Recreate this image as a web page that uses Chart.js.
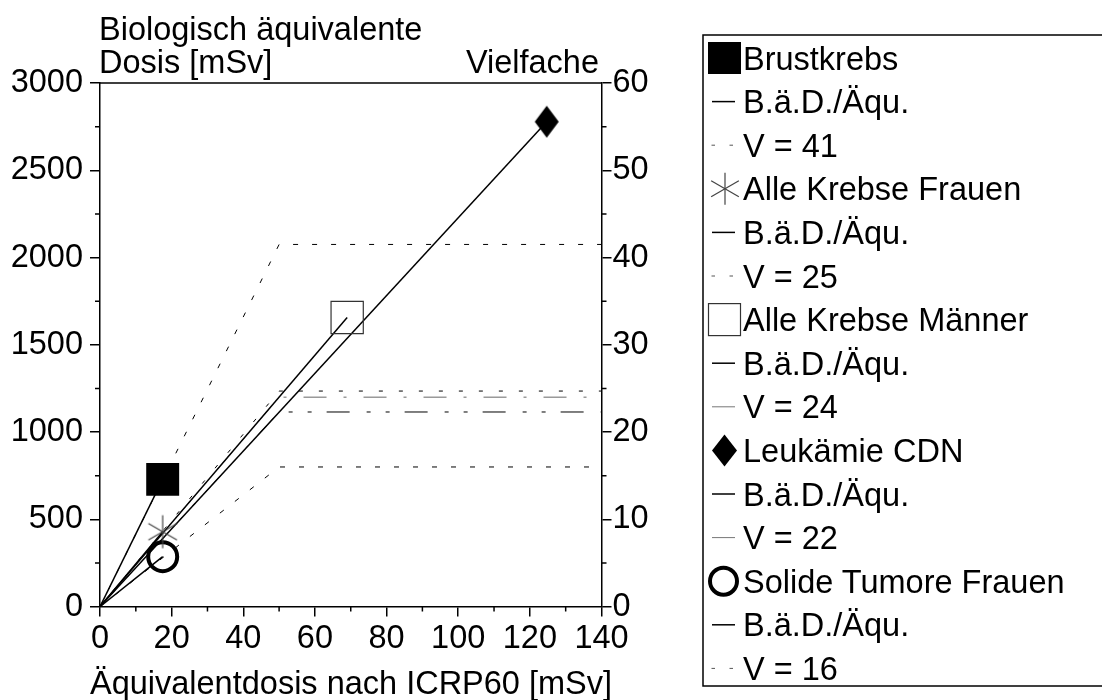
<!DOCTYPE html>
<html><head><meta charset="utf-8">
<script src="https://cdn.jsdelivr.net/npm/chart.js@4.4.0/dist/chart.umd.min.js"></script>
<style>
html,body{margin:0;padding:0;background:#fff;overflow:hidden;width:1102px;height:700px;}
#wrap{position:relative;width:1102px;height:700px;}
#c{position:absolute;left:0;top:0;}
#ov{position:absolute;left:0;top:0;pointer-events:none;}
</style></head><body>
<div id="wrap"><canvas id="c" width="700" height="700"></canvas>
<svg id="ov" width="1102" height="700" xmlns="http://www.w3.org/2000/svg"></svg></div>
<script>
// ---- data ----
const seriesNames = ['Brustkrebs', 'Alle Krebse Frauen', 'Alle Krebse Männer', 'Leukämie CDN', 'Solide Tumore Frauen'];
const doseICRP = [17.5, 17.5, 69, 124.7, 17.5];       // Äquivalentdosis [mSv]
const doseBio = [729, 429, 1656, 2778, 286];           // Biologisch äquivalente Dosis [mSv]
const multiples = [41.5, 24.7, 24, 22.3, 16];          // Vielfache (right axis)
const kneeDose = [50, 50, 50, 50, 50];                 // x where V line turns horizontal
const multipleLabels = ['V = 41', 'V = 25', 'V = 24', 'V = 22', 'V = 16'];
const ratioLabel = 'B.ä.D./Äqu.';
const xTicks = [0, 20, 40, 60, 80, 100, 120, 140];
const yTicks = [0, 500, 1000, 1500, 2000, 2500, 3000];
const y2Ticks = [0, 10, 20, 30, 40, 50, 60];
const xMinor = [10, 30, 50, 70, 90, 110, 130];
const yMinor = [250, 750, 1250, 1750, 2250, 2750];
const y2Minor = [5, 15, 25, 35, 45, 55];
const yTitle = ['Biologisch äquivalente', 'Dosis [mSv]'];
const y2Title = 'Vielfache';
const xTitle = 'Äquivalentdosis nach ICRP60 [mSv]';

const FONT = "'Liberation Sans', Arial, Helvetica, sans-serif";
const FS = 32.5;
const BL = 0.358 * FS; // cap-centre to baseline

function makeAsterisk() {
  const c = document.createElement('canvas'); c.width = 36; c.height = 36;
  const g = c.getContext('2d'); g.strokeStyle = '#444'; g.lineWidth = 1.2; g.beginPath();
  const cx = 18, cy = 18, r = 16.5;
  for (const a of [90, 30, -30]) {
    const t = a * Math.PI / 180;
    g.moveTo(cx - r * Math.cos(t), cy - r * Math.sin(t));
    g.lineTo(cx + r * Math.cos(t), cy + r * Math.sin(t));
  }
  g.stroke(); return c;
}
function makeDiamond() {
  const c = document.createElement('canvas'); c.width = 26; c.height = 34;
  const g = c.getContext('2d'); g.fillStyle = '#000'; g.beginPath();
  g.moveTo(13, 1); g.lineTo(25, 17); g.lineTo(13, 33); g.lineTo(1, 17); g.closePath(); g.fill();
  return c;
}
const markerStyles = [
  { pointStyle: 'rect', pointRadius: 23.3, backgroundColor: '#000', borderColor: '#000', borderWidth: 0 },
  { pointStyle: makeAsterisk(), pointRadius: 16, backgroundColor: '#000', borderColor: '#444', borderWidth: 1 },
  { pointStyle: 'rect', pointRadius: 22.8, backgroundColor: 'rgba(0,0,0,0)', borderColor: '#333', borderWidth: 1.2 },
  { pointStyle: makeDiamond(), pointRadius: 16, backgroundColor: '#000', borderColor: '#000', borderWidth: 0 },
  { pointStyle: 'circle', pointRadius: 14.5, backgroundColor: 'rgba(0,0,0,0)', borderColor: '#000', borderWidth: 4 }
];
const vStyles = [
  { color: '#000', dash: [5, 14] },
  { color: '#000', dash: [4, 16] },
  { color: '#666', dash: [23, 17, 3, 17] },
  { color: '#000', dash: [23, 17, 4, 15, 4, 15] },
  { color: '#000', dash: [5, 14] }
];

const datasets = [];
seriesNames.forEach((name, i) => {
  datasets.push(Object.assign({
    label: name, data: [{ x: doseICRP[i], y: doseBio[i] }], showLine: false,
    yAxisID: 'y', order: 0
  }, markerStyles[i]));
  datasets.push({
    label: name + ' ' + ratioLabel, data: [{ x: 0, y: 0 }, { x: doseICRP[i], y: doseBio[i] }],
    showLine: true, pointRadius: 0, borderColor: '#000', borderWidth: 1.5, yAxisID: 'y', order: 1
  });
  datasets.push({
    label: name + ' ' + multipleLabels[i],
    data: [{ x: 0, y: 0 }, { x: kneeDose[i], y: multiples[i] }, { x: xTicks[xTicks.length - 1], y: multiples[i] }],
    showLine: true, pointRadius: 0, borderColor: vStyles[i].color, borderWidth: 1,
    borderDash: vStyles[i].dash, yAxisID: 'y2', order: 2
  });
});

const minorPlugin = {
  id: 'minorTicks',
  afterDraw(chart) {
    const ctx = chart.ctx, a = chart.chartArea, s = chart.scales;
    ctx.save(); ctx.strokeStyle = '#000'; ctx.lineWidth = 1.5; ctx.beginPath();
    ctx.moveTo(a.left, a.top); ctx.lineTo(a.right, a.top);
    xMinor.forEach(v => { const p = s.x.getPixelForValue(v); ctx.moveTo(p, a.bottom); ctx.lineTo(p, a.bottom + 5); });
    yMinor.forEach(v => { const p = s.y.getPixelForValue(v); ctx.moveTo(a.left - 5, p); ctx.lineTo(a.left, p); });
    y2Minor.forEach(v => { const p = s.y2.getPixelForValue(v); ctx.moveTo(a.right, p); ctx.lineTo(a.right + 5, p); });
    ctx.stroke(); ctx.restore();
  }
};

function axis(extra) {
  return Object.assign({
    type: 'linear',
    grid: { display: true, drawOnChartArea: false, drawTicks: true, tickLength: 10, color: '#000', lineWidth: 1.5 },
    border: { display: true, color: '#000', width: 1.5 },
  }, extra);
}
const plain = v => String(v);

new Chart(document.getElementById('c'), {
  type: 'scatter',
  data: { datasets },
  options: {
    responsive: false, animation: false, devicePixelRatio: 1,
    layout: { padding: { top: 83, left: 0, right: 0, bottom: 0 } },
    plugins: { legend: { display: false }, tooltip: { enabled: false } },
    elements: { line: { tension: 0 } },
    scales: {
      x: axis({
        position: 'bottom', min: xTicks[0], max: xTicks[xTicks.length - 1],
        ticks: { stepSize: 20, color: '#000', font: { family: FONT, size: FS }, padding: 3, maxRotation: 0, autoSkip: false, callback: plain },
        afterFit: s => { s.height = 93.4; }
      }),
      y: axis({
        position: 'left', min: yTicks[0], max: yTicks[yTicks.length - 1],
        ticks: { stepSize: 500, color: '#000', font: { family: FONT, size: FS }, padding: 7, callback: plain },
        afterFit: s => { s.width = 100; }
      }),
      y2: axis({
        position: 'right', min: y2Ticks[0], max: y2Ticks[y2Ticks.length - 1],
        ticks: { stepSize: 10, color: '#000', font: { family: FONT, size: FS }, padding: 1, callback: plain },
        afterFit: s => { s.width = 98.5; }
      })
    }
  },
  plugins: [minorPlugin]
});

// ---- overlay: axis titles and legend ----
const NS = 'http://www.w3.org/2000/svg';
const svg = document.getElementById('ov');
function el(tag, attrs, text) {
  const e = document.createElementNS(NS, tag);
  for (const k in attrs) e.setAttribute(k, attrs[k]);
  if (text !== undefined) e.textContent = text;
  svg.appendChild(e); return e;
}
function txt(x, y, s, anchor) {
  return el('text', { x, y, 'font-family': FONT, 'font-size': FS, fill: '#000', 'text-anchor': anchor || 'start' }, s);
}
txt(99, 28.5 + BL, yTitle[0]);
txt(99, 61.5 + BL, yTitle[1]);
txt(599, 61.5 + BL, y2Title, 'end');
txt(351, 682 + BL, xTitle, 'middle');

el('rect', { x: 703, y: 35, width: 500, height: 651, fill: 'none', stroke: '#000', 'stroke-width': 1.5 });
const rowH = 43.6, row0 = 58;
function legendMarker(i, cy) {
  if (i === 0) el('rect', { x: 708, y: cy - 16, width: 33, height: 32, fill: '#000' });
  else if (i === 1) {
    const cx = 725, r = 16;
    [90, 30, -30].forEach(a => {
      const t = a * Math.PI / 180;
      el('line', { x1: cx - r * Math.cos(t), y1: cy - r * Math.sin(t), x2: cx + r * Math.cos(t), y2: cy + r * Math.sin(t), stroke: '#444', 'stroke-width': 1.2 });
    });
  } else if (i === 2) el('rect', { x: 708.5, y: cy - 16, width: 32, height: 32, fill: 'none', stroke: '#333', 'stroke-width': 1.2 });
  else if (i === 3) el('polygon', { points: `724.5,${cy - 16} 737,${cy} 724.5,${cy + 16} 712,${cy}`, fill: '#000' });
  else el('circle', { cx: 723.5, cy, r: 13.5, fill: 'none', stroke: '#000', 'stroke-width': 4 });
}
seriesNames.forEach((name, i) => {
  const base = row0 + rowH * 3 * i;
  legendMarker(i, base);
  txt(743, base + BL, name);
  const c2 = base + rowH;
  el('line', { x1: 712, y1: c2, x2: 735, y2: c2, stroke: '#000', 'stroke-width': 1.5 });
  txt(743, c2 + BL, ratioLabel);
  const c3 = base + 2 * rowH;
  const d = vStyles[i].dash;
  if (d[0] > 10) el('line', { x1: 712, y1: c3, x2: 735, y2: c3, stroke: '#777', 'stroke-width': 1 });
  else {
    el('line', { x1: 711.5, y1: c3, x2: 715, y2: c3, stroke: '#555', 'stroke-width': 1 });
    el('line', { x1: 729.5, y1: c3, x2: 733, y2: c3, stroke: '#555', 'stroke-width': 1 });
  }
  txt(743, c3 + BL, multipleLabels[i]);
});
</script>
</body></html>
